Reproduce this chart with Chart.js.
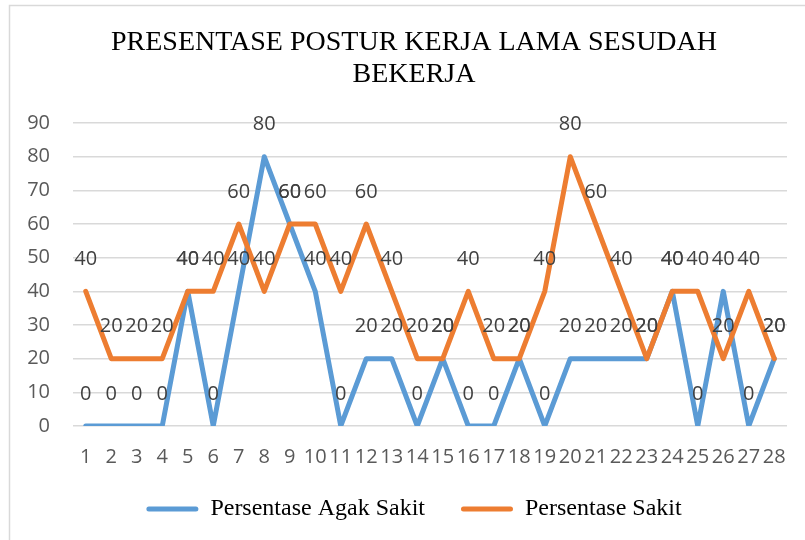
<!DOCTYPE html>
<html>
<head>
<meta charset="utf-8">
<script src="https://cdn.jsdelivr.net/npm/chart.js@4/dist/chart.umd.min.js"></script>
<style>
html,body{margin:0;padding:0;background:#fff;}
canvas{display:block;}
</style>
</head>
<body>
<canvas id="c" width="805" height="540"></canvas>
<script>
const categories = ['1','2','3','4','5','6','7','8','9','10','11','12','13','14','15','16','17','18','19','20','21','22','23','24','25','26','27','28'];
const agakSakit = [0,0,0,0,40,0,40,80,60,40,0,20,20,0,20,0,0,20,0,20,20,20,20,40,0,40,0,20];
const sakit = [40,20,20,20,40,40,60,40,60,60,40,60,40,20,20,40,20,20,40,80,60,40,20,40,40,20,40,20];
const seriesNames = ['Persentase Agak Sakit','Persentase Sakit'];
const titleLines = ['PRESENTASE POSTUR KERJA LAMA SESUDAH','BEKERJA'];

const BLUE = '#5B9BD5', ORANGE = '#ED7D31';

const frame = {
  id: 'frame',
  beforeDraw(chart) {
    const ctx = chart.ctx;
    ctx.save();
    ctx.fillStyle = '#fff';
    ctx.fillRect(0, 0, chart.width, chart.height);
    ctx.strokeStyle = '#D9D9D9';
    ctx.lineWidth = 1.5;
    ctx.strokeRect(9.5, 5.5, 1000, 1000);
    ctx.restore();
  }
};

const shiftBoxes = {
  id: 'shiftBoxes',
  afterLayout(chart) {
    const t = chart.titleBlock;
    if (t) { t.left += 20; t.width = t.right - t.left; }
    const l = chart.legend;
    if (l) { l.left += 20; l.width = l.right - l.left; l.top -= 8; l.bottom -= 8; }
  }
};

const dataLabels = {
  id: 'dataLabels',
  afterDatasetsDraw(chart) {
    const ctx = chart.ctx;
    ctx.save();
    ctx.font = '20px "Open Sans"';
    ctx.fillStyle = '#404040';
    ctx.textAlign = 'center';
    ctx.textBaseline = 'middle';
    chart.data.datasets.forEach((ds, i) => {
      const meta = chart.getDatasetMeta(i);
      meta.data.forEach((pt, j) => {
        ctx.fillText(String(ds.data[j]), pt.x, pt.y - 32);
      });
    });
    ctx.restore();
  }
};

new Chart(document.getElementById('c'), {
  type: 'line',
  data: {
    labels: categories,
    datasets: [
      { label: seriesNames[0], data: agakSakit, borderColor: BLUE, backgroundColor: BLUE,
        borderWidth: 5, pointRadius: 0, tension: 0, borderJoinStyle: 'round', borderCapStyle: 'round', order: 1 },
      { label: seriesNames[1], data: sakit, borderColor: ORANGE, backgroundColor: ORANGE,
        borderWidth: 5, pointRadius: 0, tension: 0, borderJoinStyle: 'round', borderCapStyle: 'round', order: 0 }
    ]
  },
  options: {
    responsive: false,
    animation: false,
    devicePixelRatio: 1,
    layout: { padding: { left: 20, right: 17, top: 10, bottom: 1 } },
    plugins: {
      tooltip: { enabled: false },
      title: {
        display: true,
        text: titleLines,
        color: '#000',
        font: { family: '"Liberation Serif"', size: 28, weight: 'normal', lineHeight: '32px' },
        padding: { top: 16.5, bottom: 32.5 }
      },
      legend: {
        position: 'bottom',
        labels: {
          color: '#000',
          font: { family: '"Liberation Serif"', size: 24 },
          boxWidth: 52,
          boxHeight: 5,
          padding: 36,
          useBorderRadius: true,
          borderRadius: 2.5,
          sort: (a, b) => a.datasetIndex - b.datasetIndex,
          generateLabels(chart) {
            return chart.data.datasets.map((ds, i) => ({
              text: ds.label, fillStyle: ds.borderColor, strokeStyle: ds.borderColor,
              lineWidth: 0, hidden: false, datasetIndex: i, borderRadius: 2.5
            }));
          }
        }
      }
    },
    scales: {
      x: {
        offset: true,
        grid: { display: false, drawTicks: false },
        border: { display: false },
        ticks: { color: '#595959', font: { family: '"Open Sans"', size: 20 }, padding: 19,
                 autoSkip: false, maxRotation: 0, minRotation: 0 },
        afterFit(scale) { scale.height = 43; }
      },
      y: {
        min: 0, max: 90,
        grid: { color: '#D9D9D9', lineWidth: 1.5, drawTicks: false },
        border: { display: false },
        ticks: { stepSize: 10, color: '#595959', font: { family: '"Open Sans"', size: 20 }, padding: 23 },
        afterFit(scale) { scale.width = 53; }
      }
    }
  },
  plugins: [frame, shiftBoxes, dataLabels]
});
</script>
</body>
</html>
